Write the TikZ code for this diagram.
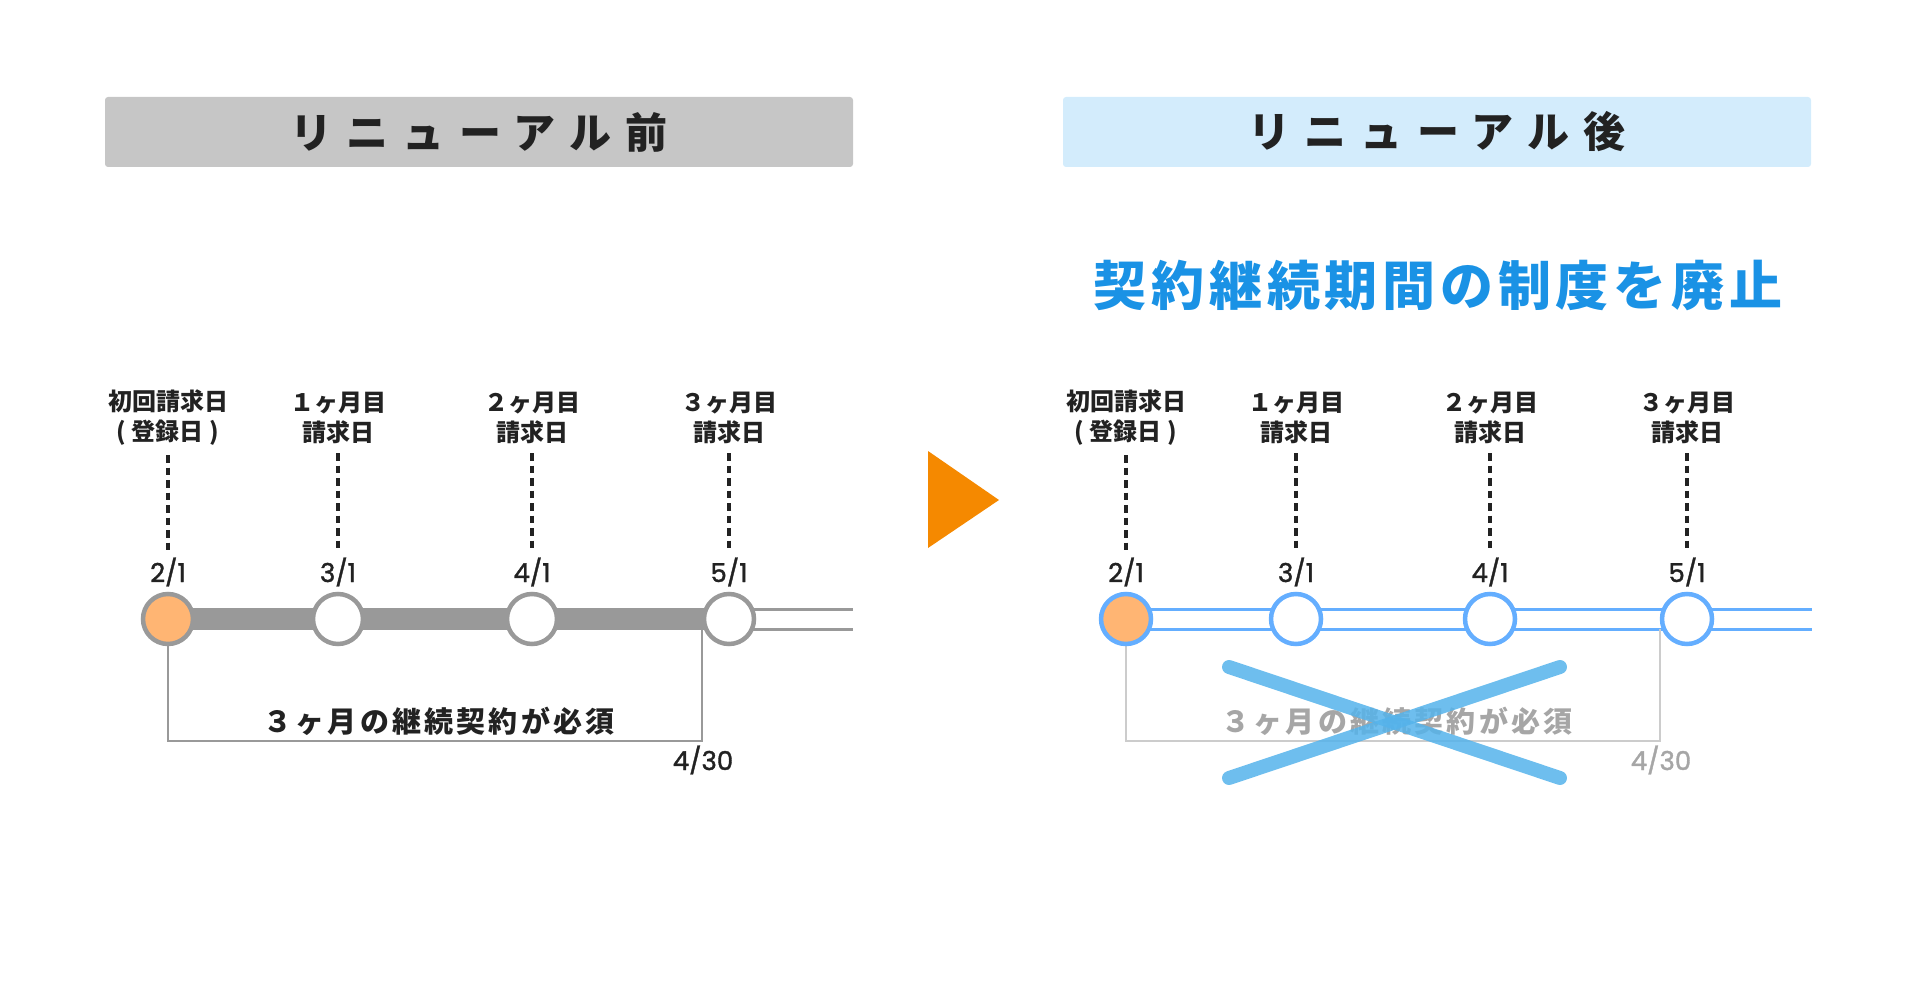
\documentclass[tikz,border=0pt]{standalone}
\usepackage{fontspec}
\setmainfont{Noto Sans CJK JP}
\newfontfamily\numfont{Poppins}[FakeBold=1.4]
\usepackage{tikz}
\usetikzlibrary{positioning,backgrounds}

\definecolor{inkdark}{HTML}{222222}
\definecolor{hdrgray}{HTML}{C6C6C6}
\definecolor{hdrblue}{HTML}{D3ECFC}
\definecolor{titleblue}{RGB}{26,146,229}
\definecolor{markgray}{HTML}{999999}
\definecolor{markorange}{RGB}{255,181,115}
\definecolor{markblue}{RGB}{100,174,255}
\definecolor{crossblue}{RGB}{85,179,235}
\definecolor{fadegray}{HTML}{CCCCCC}
\definecolor{fadetext}{HTML}{A6A6A6}
\definecolor{arroworange}{RGB}{245,137,0}

\begin{document}
\begin{tikzpicture}[
        x=1pt, y=-1pt,
        every node/.style={inner sep=0pt, text=inkdark, align=center},
        header/.style={rounded corners=3pt, minimum width=748pt, minimum height=70pt,
            font=\fontsize{42}{42}\selectfont\bfseries\addfontfeatures{LetterSpace=34}},
        bigtitle/.style={text=titleblue, font=\fontsize{53}{53}\selectfont\bfseries\addfontfeatures{LetterSpace=9}},
        lbl/.style={font=\fontsize{24}{30}\selectfont\bfseries},
        datelbl/.style={font=\numfont\fontsize{26}{26}\selectfont},
        note/.style={font=\fontsize{29}{29}\selectfont\bfseries\addfontfeatures{LetterSpace=11}},
        stopdot/.style={circle, draw, line width=4.5pt, minimum size=50pt, fill=white},
        guide/.style={draw=inkdark, line width=3.5pt, dash pattern=on 7.5pt off 5pt,
            shorten <=9pt, shorten >=5pt},
        tube/.style={line width=3pt},
        bracket/.style={line width=2.5pt},
        crossline/.style={draw=crossblue, line width=14pt, line cap=round, opacity=0.85}
    ]
        \useasboundingbox (0,0) rectangle (1920,1000);
        \coordinate (lblrow) at (0,418);
        \coordinate (daterow) at (0,572);

        % before
        \node[header, fill=hdrgray] (hl) at (479,132) {リニューアル前};

        \node[stopdot, draw=markgray, fill=markorange] (l1) at (168,619) {};
        \node[stopdot, draw=markgray] (l2) at (338,619) {};
        \node[stopdot, draw=markgray] (l3) at (532,619) {};
        \node[stopdot, draw=markgray] (l4) at (729,619) {};
        \coordinate (lend) at (853,619);

        \node[lbl] (lt1) at (l1 |- lblrow) {初回請求日\\( 登録日 )};
        \node[lbl] (lt2) at (l2 |- lblrow) {１ヶ月目\\請求日};
        \node[lbl] (lt3) at (l3 |- lblrow) {２ヶ月目\\請求日};
        \node[lbl] (lt4) at (l4 |- lblrow) {３ヶ月目\\請求日};

        \node[datelbl] (ld1) at (l1 |- daterow) {2/1};
        \node[datelbl] (ld2) at (l2 |- daterow) {3/1};
        \node[datelbl] (ld3) at (l3 |- daterow) {4/1};
        \node[datelbl] (ld4) at (l4 |- daterow) {5/1};

        \draw[guide] (lt1) -- (ld1);
        \draw[guide] (lt2) -- (ld2);
        \draw[guide] (lt3) -- (ld3);
        \draw[guide] (lt4) -- (ld4);

        \coordinate (lbr) at (702,741);
        \coordinate (lbt) at ([yshift=-10pt]l4.center);
        \node[note] (ln) at (439,721) {３ヶ月の継続契約が必須};
        \node[datelbl] (le) at (703,760) {4/30};

        % after
        \node[header, fill=hdrblue] (hr) at (1437,132) {リニューアル後};
        \node[bigtitle] (rt) at (1438,285) {契約継続期間の制度を廃止};

        \node[stopdot, draw=markblue, fill=markorange] (r1) at (1126,619) {};
        \node[stopdot, draw=markblue] (r2) at (1296,619) {};
        \node[stopdot, draw=markblue] (r3) at (1490,619) {};
        \node[stopdot, draw=markblue] (r4) at (1687,619) {};
        \coordinate (rend) at (1812,619);

        \node[lbl] (rt1) at (r1 |- lblrow) {初回請求日\\( 登録日 )};
        \node[lbl] (rt2) at (r2 |- lblrow) {１ヶ月目\\請求日};
        \node[lbl] (rt3) at (r3 |- lblrow) {２ヶ月目\\請求日};
        \node[lbl] (rt4) at (r4 |- lblrow) {３ヶ月目\\請求日};

        \node[datelbl] (rd1) at (r1 |- daterow) {2/1};
        \node[datelbl] (rd2) at (r2 |- daterow) {3/1};
        \node[datelbl] (rd3) at (r3 |- daterow) {4/1};
        \node[datelbl] (rd4) at (r4 |- daterow) {5/1};

        \draw[guide] (rt1) -- (rd1);
        \draw[guide] (rt2) -- (rd2);
        \draw[guide] (rt3) -- (rd3);
        \draw[guide] (rt4) -- (rd4);

        \coordinate (rbr) at (1660,741);
        \coordinate (rbt) at ([yshift=-10pt]r4.center);
        \node[note, text=fadetext] (rn) at (1397,721) {３ヶ月の継続契約が必須};
        \node[datelbl, text=fadetext] (re) at (1661,760) {4/30};

        \coordinate (xa) at (1229,667);
        \coordinate (xb) at (1560,778);
        \coordinate (xc) at (1229,778);
        \coordinate (xd) at (1560,667);
        \draw[crossline] (xa) -- (xb);
        \draw[crossline] (xc) -- (xd);

        \fill[arroworange] (928,451) -- (999,500) -- (928,548) -- cycle;

        \begin{scope}[on background layer]
            \draw[line width=22pt, draw=markgray] (l1.center) -- (l4.center);
            \draw[tube, draw=markgray] ([yshift=10pt]l4.center) -- ([yshift=10pt]lend);
            \draw[tube, draw=markgray] ([yshift=-10pt]l4.center) -- ([yshift=-10pt]lend);
            \draw[bracket, draw=markgray] (l1.south) |- (lbr) -- (lbr |- lbt);

            \draw[tube, draw=markblue] ([yshift=10pt]r1.center) -- ([yshift=10pt]rend);
            \draw[tube, draw=markblue] ([yshift=-10pt]r1.center) -- ([yshift=-10pt]rend);
            \draw[bracket, draw=fadegray] (r1.south) |- (rbr) -- (rbr |- rbt);
        \end{scope}
    \end{tikzpicture}
\end{document}
